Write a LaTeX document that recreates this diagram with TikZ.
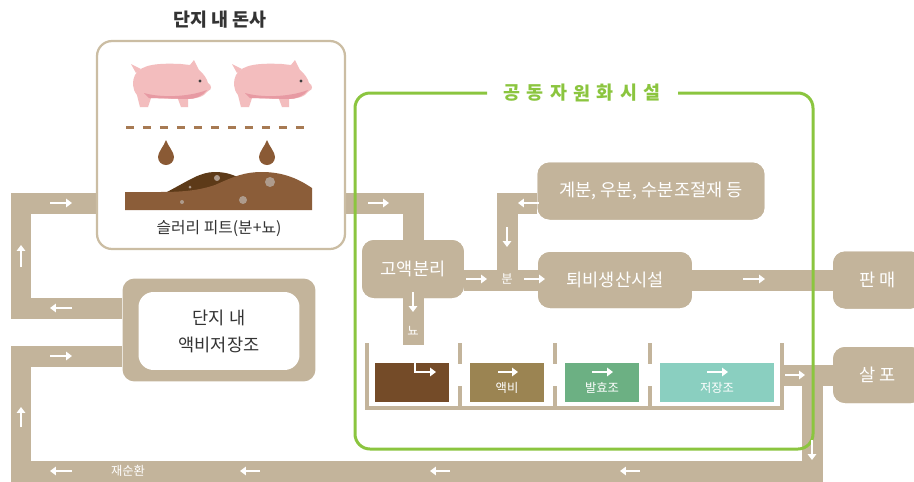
\documentclass[tikz,border=0pt]{standalone}
\usepackage{fontspec}
\setmainfont{Noto Sans CJK KR}
\usetikzlibrary{arrows.meta}

\definecolor{pipetan}{HTML}{C3B49B}
\definecolor{barnline}{HTML}{CBBDA3}
\definecolor{darktext}{HTML}{333333}
\definecolor{framegreen}{HTML}{8BC53F}
\definecolor{tankbrown}{HTML}{744B28}
\definecolor{liquid}{HTML}{9B8452}
\definecolor{ferment}{HTML}{6CB083}
\definecolor{storage}{HTML}{8ACFC0}
\definecolor{pigskin}{HTML}{F3BDBE}
\definecolor{pigbelly}{HTML}{E79AA3}
\definecolor{slat}{HTML}{A77A53}
\definecolor{drip}{HTML}{8A5A35}
\definecolor{moundback}{HTML}{5D3A18}
\definecolor{moundfront}{HTML}{8B5D39}
\definecolor{spot}{HTML}{AE9B8C}

\tikzset{
	pipe/.style={draw=pipetan, line width=0.42cm},
	unit/.style={fill=pipetan, rounded corners=0.24cm, text=white, inner sep=0pt, font=\fontsize{10}{12}\selectfont},
	tank/.style={minimum height=0.78cm, inner sep=0pt},
	wall/.style={draw=pipetan, line width=0.07cm},
	small/.style={text=white, inner sep=0pt, font=\fontsize{7}{8}\selectfont},
	flow/.style={draw=white, line width=1.6pt, -{Triangle[length=3.4pt,width=4.8pt]}},
	frame/.style={draw=framegreen, line width=0.06cm, rounded corners=0.3cm},
	pig/.pic={
		\fill[pigskin] (-35,-12) -- (-40,-21) -- (-30,-16) -- cycle;
		\fill[pigskin] (-36,-10) .. controls (-30,-21) and (-12,-22) .. (10,-21) -- (19,-20) -- (23,-25) -- (28,-15) .. controls (33,-11) and (36,-6) .. (37,-2) .. controls (41,0) and (41,5) .. (37,6) .. controls (33,12) and (24,14) .. (17,14) -- (17,22) -- (10,22) -- (7,14) -- (-20,13) -- (-23,22) -- (-31,22) -- (-34,10) .. controls (-39,4) and (-39,-4) .. (-36,-10) -- cycle;
		\fill[pigbelly] (-27,8) .. controls (-10,13) and (18,12) .. (36,5) .. controls (32,11) and (24,14) .. (17,14) -- (-22,13) -- cycle;
		\fill[black!75] (29,-4) circle (1.6);
	},
	drop/.pic={
		\fill[drip] (0,-17) .. controls (2,-11) and (8,-5) .. (8,0) arc[start angle=0, end angle=180, radius=8] .. controls (-8,-5) and (-2,-11) .. (0,-17) -- cycle;
	}
}

\begin{document}
\begin{tikzpicture}[x=0.02cm, y=-0.02cm]
	\useasboundingbox (0,0) rectangle (914,481);

	\coordinate (c1) at (21,308);
	\coordinate (c2) at (21,203);
	\coordinate (c3) at (413,203);
	\coordinate (d1) at (812,375);
	\coordinate (d2) at (812,471);
	\coordinate (d3) at (21,471);
	\coordinate (d4) at (21,356);
	\coordinate (e1) at (507,203);
	\coordinate (tankout) at (783,375);
	\coordinate (u) at (413,345);

	\node[unit, minimum width=2.04cm, minimum height=1.16cm] (solid) at (413,269) {};
	\node[unit, minimum width=4.54cm, minimum height=1.14cm] (manure) at (651,191) {};
	\node[unit, minimum width=3.08cm, minimum height=1.12cm] (compost) at (615,280) {};
	\node[unit, minimum width=1.8cm, minimum height=1.14cm] (sale) at (878,280) {};
	\node[unit, minimum width=1.8cm, minimum height=1.12cm] (spray) at (878,375) {};
	\node[unit, minimum width=3.86cm, minimum height=2.06cm] (store) at (219,330) {};

	\draw[pipe] (store.west |- c1) -- (c1) -- (c2) -- (c3) -- (solid.north);
	\draw[pipe] (tankout) -- (spray.west);
	\draw[pipe] (d1) -- (d2) -- (d3) -- (d4) -- (store.west |- d4);
	\draw[pipe] (solid.east |- compost.west) -- (compost.west);
	\draw[pipe] (manure.west |- e1) -- (e1) -- (e1 |- compost.west);
	\draw[pipe] (compost.east) -- (sale.west);
	\draw[pipe] (solid.south) -- (u);

	\node[unit, minimum width=2.04cm, minimum height=1.16cm] (solidtxt) at (413,269) {고액분리};
	\node[unit, minimum width=4.54cm, minimum height=1.14cm] (manuretxt) at (651,191) {계분, 우분, 수분조절재 등};
	\node[unit, minimum width=3.08cm, minimum height=1.12cm] (composttxt) at (615,280) {퇴비생산시설};
	\node[unit, minimum width=1.8cm, minimum height=1.14cm] (saletxt) at (878,280) {판 매};
	\node[unit, minimum width=1.8cm, minimum height=1.12cm] (spraytxt) at (878,375) {살 포};
	\node[fill=white, rounded corners=0.3cm, minimum width=3.22cm, minimum height=1.56cm, inner sep=0pt, align=center, text=darktext, font=\fontsize{10}{15.4}\selectfont] (storein) at (219,331) {단지 내\\액비저장조};

	\node[draw=barnline, fill=white, line width=0.045cm, rounded corners=0.3cm, minimum width=4.96cm, minimum height=4.16cm] (barn) at (221,145) {};
	\node[text=darktext, font=\fontsize{10.5}{12}\selectfont\bfseries] (barntitle) at (220,20) {단지 내 돈사};
	\node[text=darktext, font=\fontsize{9}{11}\selectfont] (pit) at (219,229) {슬러리 피트(분+뇨)};

	\pic (pigA) at (171,85) {pig};
	\pic (pigB) at (272,85) {pig};
	\draw[slat, line width=0.06cm, dash pattern=on 0.16cm off 0.18cm] (126,127) -- (311,127);
	\pic (dropA) at (166,157) {drop};
	\pic (dropB) at (267,157) {drop};
	\fill[moundback] (165,193) .. controls (190,180) and (200,172) .. (215,172) .. controls (228,172) and (235,176) .. (240,178) -- (240,195) -- cycle;
	\fill[moundfront] (125,192) -- (160,192) .. controls (185,192) and (200,190) .. (215,185) .. controls (235,176) and (245,172) .. (262,172) .. controls (285,172) and (300,180) .. (312,188) -- (312,210) -- (125,210) -- cycle;
	\fill[spot] (217,178) circle (3);
	\fill[spot] (270,182) circle (5);
	\fill[spot] (243,200) circle (4);
	\fill[spot] (182,202) circle (2);
	\fill[spot] (190,187) circle (1.5);

	\node[tank, fill=tankbrown, minimum width=1.5cm] (pitA) at (412,382) {};
	\node[tank, fill=liquid, minimum width=1.5cm] (liquidA) at (507,382) {};
	\node[tank, fill=ferment, minimum width=1.5cm] (fermentA) at (602,382) {};
	\node[tank, fill=storage, minimum width=2.3cm] (storageA) at (717,382) {};
	\draw[wall] (367,343) -- (367,408) -- (782,408) -- (782,343);
	\foreach \x in {460,555,650} {
		\draw[wall] (\x,343) -- (\x,364);
		\draw[wall] (\x,386) -- (\x,408);
	}
	\node[small] (liquidtxt) at (507,388) {액비};
	\node[small] (fermenttxt) at (602,388) {발효조};
	\node[small] (storagetxt) at (717,388) {저장조};
	\node[small] (urine) at (413,331) {뇨};
	\node[small] (feces) at (507,279) {분};
	\node[small] (recycle) at (128,471) {재순환};

	\draw[frame] (487,93) -- (355,93) -- (355,449) -- (813,449) -- (813,93) -- (678,93);
	\foreach \ch [count=\i from 0] in {공,동,자,원,화,시,설}
		\node[text=framegreen, inner sep=0pt, font=\fontsize{10.5}{12}\selectfont\bfseries] (t\i) at (512+23.3*\i,93) {\ch};

	\draw[flow] (50,203) -- (72,203);
	\draw[flow] (21,267) -- (21,245);
	\draw[flow] (72,308) -- (50,308);
	\draw[flow] (50,356) -- (72,356);
	\draw[flow] (21,427) -- (21,407);
	\draw[flow] (72,471) -- (50,471);
	\draw[flow] (260,471) -- (240,471);
	\draw[flow] (450,471) -- (430,471);
	\draw[flow] (640,471) -- (620,471);
	\draw[flow] (368,203) -- (389,203);
	\draw[flow] (413,292) -- (413,312);
	\draw[flow] (466,279) -- (487,279);
	\draw[flow] (524,279) -- (545,279);
	\draw[flow] (539,203) -- (518,203);
	\draw[flow] (507,227) -- (507,247);
	\draw[flow] (743,279) -- (765,279);
	\draw[flow] (785,375) -- (805,375);
	\draw[flow] (812,440) -- (812,460);
	\draw[flow] (415,363) -- (415,372) -- (436,372);
	\draw[flow] (498,372) -- (518,372);
	\draw[flow] (592,372) -- (613,372);
	\draw[flow] (707,372) -- (728,372);
\end{tikzpicture}
\end{document}
